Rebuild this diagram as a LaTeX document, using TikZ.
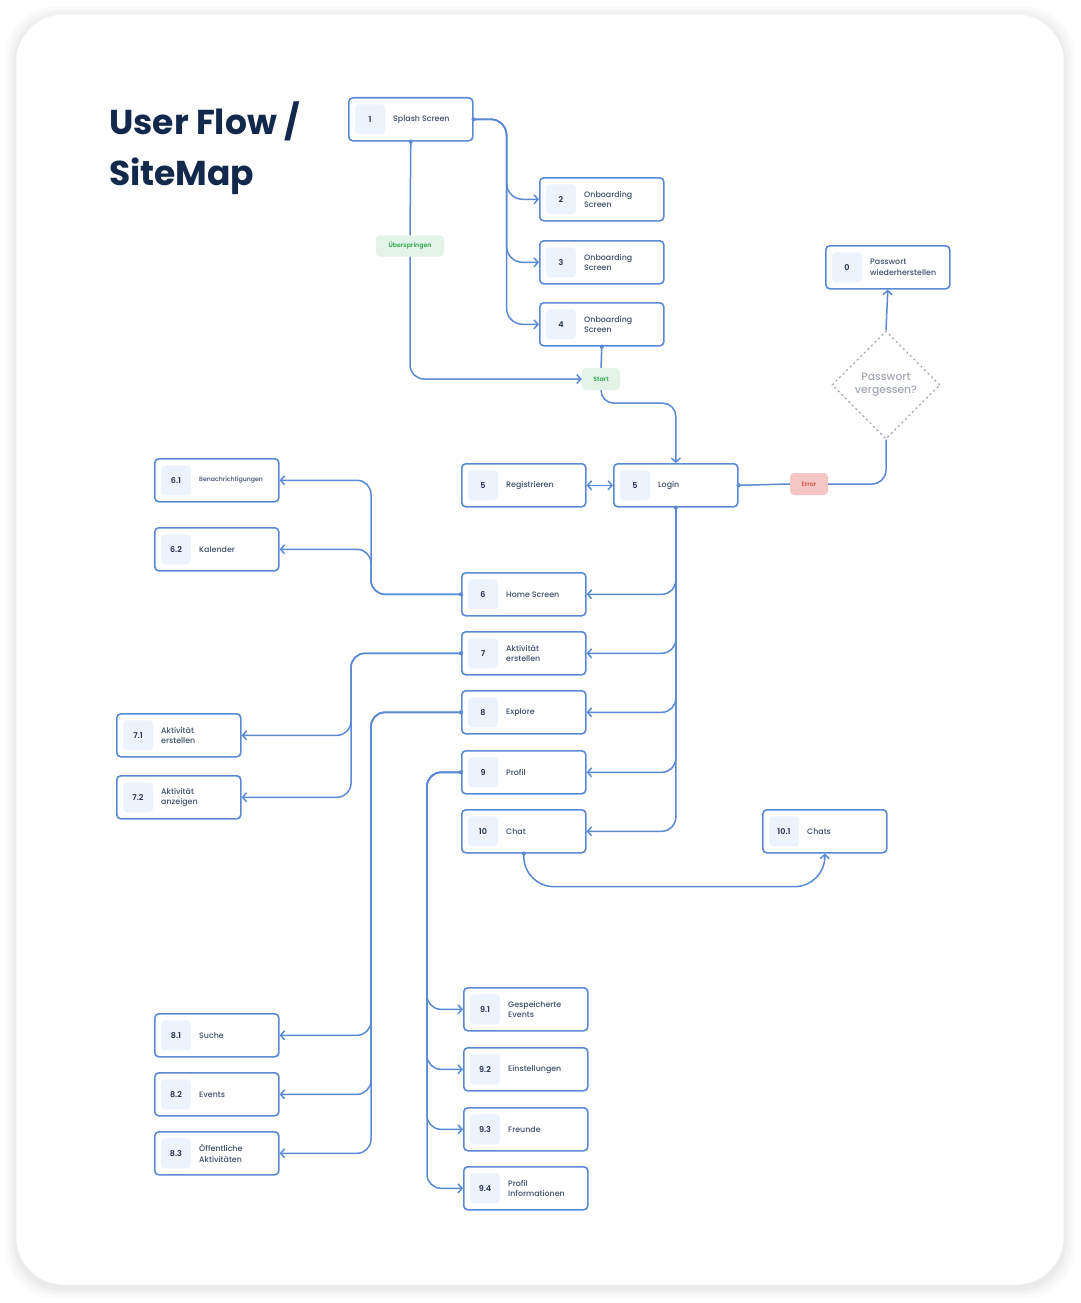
\documentclass[tikz,border=0pt]{standalone}
\usepackage{fontspec}
\setmainfont{Poppins}
\IfFontExistsTF{Poppins SemiBold}{\newfontfamily\numfont{Poppins SemiBold}}{\newfontfamily\numfont{Poppins}[FakeBold=1.5]}
\IfFontExistsTF{Poppins Medium}{\newfontfamily\lblfont{Poppins Medium}}{\newfontfamily\lblfont{Poppins}[FakeBold=0.8]}
\usetikzlibrary{arrows.meta,shapes.geometric,calc}
\definecolor{edge}{HTML}{5B8AD4}
\definecolor{sq}{HTML}{EDF3FD}
\definecolor{numc}{HTML}{22304C}
\definecolor{lblc}{HTML}{3E4D68}
\definecolor{titlec}{HTML}{13294B}
\definecolor{dgray}{HTML}{A3A7AE}
\definecolor{dtext}{HTML}{A3A8B0}
\definecolor{gfill}{HTML}{E4F3E8}
\definecolor{gtext}{HTML}{2FA84F}
\definecolor{rfill}{HTML}{F4C7C5}
\definecolor{rtext}{HTML}{D9534F}
\newcommand\mybox[6]{%
  \node[box] (#1) at (#2,#3) {};
  \node[numsq] (#1n) at ([xshift=22pt]#1.west) {#4};
  \node[lbl,#6] (#1t) at ([xshift=45pt]#1.west) {#5};
}
\begin{document}
\begin{tikzpicture}[x=1pt,y=-1pt,
  box/.style={draw=edge, line width=1.6pt, rounded corners=4pt, minimum width=124pt, minimum height=43pt, anchor=north west, fill=white, inner sep=0pt},
  numsq/.style={fill=sq, rounded corners=4pt, minimum width=30pt, minimum height=30pt, inner sep=0pt, font=\numfont\fontsize{8}{10}\selectfont, text=numc},
  lbl/.style={anchor=west, align=left, font=\lblfont\fontsize{7.9}{10.5}\selectfont, text=lblc, inner sep=0pt},
  smalllbl/.style={font=\lblfont\fontsize{6.2}{8}\selectfont},
  link/.style={draw=edge, line width=1.5pt, rounded corners=14pt},
  dotarrow/.style={link, arrows={-Straight Barb[length=4pt,width=9pt]}},
  arrowonly/.style={link, arrows={-Straight Barb[length=4pt,width=9pt]}},
  dotonly/.style={link},
  dot/.style={fill=edge},
  tag/.style={rounded corners=4pt, inner sep=0pt, minimum height=21pt, font=\numfont\fontsize{6.2}{7.5}\selectfont},
]
\useasboundingbox (0,0) rectangle (1080,1303);
\fill[white] (0,0) rectangle (1080,1303);
\foreach \s in {10,7,4,2} {
  \fill[black,opacity=0.018,rounded corners=48pt] (16-\s,14-\s+3) rectangle (1064+\s,1285+\s+3);
}
\fill[white,draw=black!6,line width=0.6pt,rounded corners=48pt] (16,14) rectangle (1064,1285);

% title
\node[anchor=base west, inner sep=0pt, font=\fontsize{34.5}{44}\bfseries\selectfont, text=titlec] (title1) at (109,135) {User Flow /};
\node[anchor=base west, inner sep=0pt, font=\fontsize{34.5}{44}\bfseries\selectfont, text=titlec] (title2) at (109,185) {SiteMap};

% boxes
\mybox{s1}{348}{97}{1}{Splash Screen}{}
\mybox{b2}{539}{177}{2}{Onboarding\\Screen}{}
\mybox{b3}{539}{240}{3}{Onboarding\\Screen}{}
\mybox{b4}{539}{302}{4}{Onboarding\\Screen}{}
\mybox{b0}{825}{245}{0}{Passwort\\wiederherstellen}{}
\mybox{reg}{461}{463}{5}{Registrieren}{}
\mybox{login}{613}{463}{5}{Login}{}
\mybox{b61}{154}{458}{6.1}{Benachrichtigungen}{smalllbl}
\mybox{b62}{154}{527}{6.2}{Kalender}{}
\mybox{h6}{461}{572}{6}{Home Screen}{}
\mybox{c7}{461}{631}{7}{Aktivität\\erstellen}{}
\mybox{c8}{461}{690}{8}{Explore}{}
\mybox{c9}{461}{750}{9}{Profil}{}
\mybox{c10}{461}{809}{10}{Chat}{}
\mybox{c101}{762}{809}{10.1}{Chats}{}
\mybox{b71}{116}{713}{7.1}{Aktivität\\erstellen}{}
\mybox{b72}{116}{775}{7.2}{Aktivität\\anzeigen}{}
\mybox{b81}{154}{1013}{8.1}{Suche}{}
\mybox{b82}{154}{1072}{8.2}{Events}{}
\mybox{b83}{154}{1131}{8.3}{Öffentliche\\Aktivitäten}{}
\mybox{b91}{463}{987}{9.1}{Gespeicherte\\Events}{}
\mybox{b92}{463}{1047}{9.2}{Einstellungen}{}
\mybox{b93}{463}{1107}{9.3}{Freunde}{}
\mybox{b94}{463}{1166}{9.4}{Profil\\Informationen}{}

% diamond
\node[diamond, draw=dgray, dash pattern=on 2pt off 3pt, line width=1.3pt, minimum width=108pt, minimum height=108pt, aspect=1, inner sep=0pt, align=center, text=dtext, font=\lblfont\fontsize{10.8}{13}\selectfont] (dia) at (886,385) {Passwort\\vergessen?};

% tags
\node[tag, fill=gfill, text=gtext, minimum width=68pt] (skip) at (410,246) {Überspringen};
\node[tag, fill=gfill, text=gtext, minimum width=38pt, minimum height=22pt] (start) at (601,379) {Start};
\node[tag, fill=rfill, text=rtext, minimum width=38pt, minimum height=22pt] (err) at (809,484) {Error};

% splash -> onboarding
\draw[dotarrow,rounded corners=16pt] (s1.east) -- ++(33,0) |- (b2.west);
\draw[dotarrow,rounded corners=16pt] (s1.east) -- ++(33,0) |- (b3.west);
\draw[dotarrow,rounded corners=16pt] (s1.east) -- ++(33,0) |- (b4.west);
% skip path
\draw[dotonly] (s1.south) -- (skip.north);
\draw[arrowonly] (skip.south) |- (start.west);
\draw[dotonly] (b4.south) -- (start.north);
\draw[arrowonly,rounded corners=13pt] (start.south) -- ++(0,13) -| (login.north);
% login
\draw[link,arrows={Straight Barb[length=4pt,width=9pt]-Straight Barb[length=4pt,width=9pt]}] (reg.east) -- (login.west);
\draw[dotonly] (login.east) -- (err.west);
\draw[link] (err.east) -| (dia.south);
\draw[arrowonly] (dia.north) -- (b0.south);
% login trunk
\draw[dotarrow] (login.south) |- (h6.east);
\draw[dotarrow] (login.south) |- (c7.east);
\draw[dotarrow] (login.south) |- (c8.east);
\draw[dotarrow] (login.south) |- (c9.east);
\draw[dotarrow] (login.south) |- (c10.east);
% home
\draw[dotarrow] (h6.west) -- ++(-90,0) |- (b61.east);
\draw[dotarrow] (h6.west) -- ++(-90,0) |- (b62.east);
% 7
\draw[dotarrow] (c7.west) -- ++(-110,0) |- (b71.east);
\draw[dotarrow] (c7.west) -- ++(-110,0) |- (b72.east);
% 8
\draw[dotarrow] (c8.west) -- ++(-90,0) |- (b81.east);
\draw[dotarrow] (c8.west) -- ++(-90,0) |- (b82.east);
\draw[dotarrow] (c8.west) -- ++(-90,0) |- (b83.east);
% 9
\draw[dotarrow] (c9.west) -- ++(-34,0) |- (b91.west);
\draw[dotarrow] (c9.west) -- ++(-34,0) |- (b92.west);
\draw[dotarrow] (c9.west) -- ++(-34,0) |- (b93.west);
\draw[dotarrow] (c9.west) -- ++(-34,0) |- (b94.west);
% chat
\draw[dotarrow,rounded corners=30pt] (c10.south) -- ++(0,33) -| (c101.south);

% start dots
\foreach \p in {s1.east,s1.south,b4.south,login.east,login.south,h6.west,c7.west,c8.west,c9.west,c10.south}
  \fill[dot] (\p) circle (2.1pt);
\end{tikzpicture}
\end{document}
